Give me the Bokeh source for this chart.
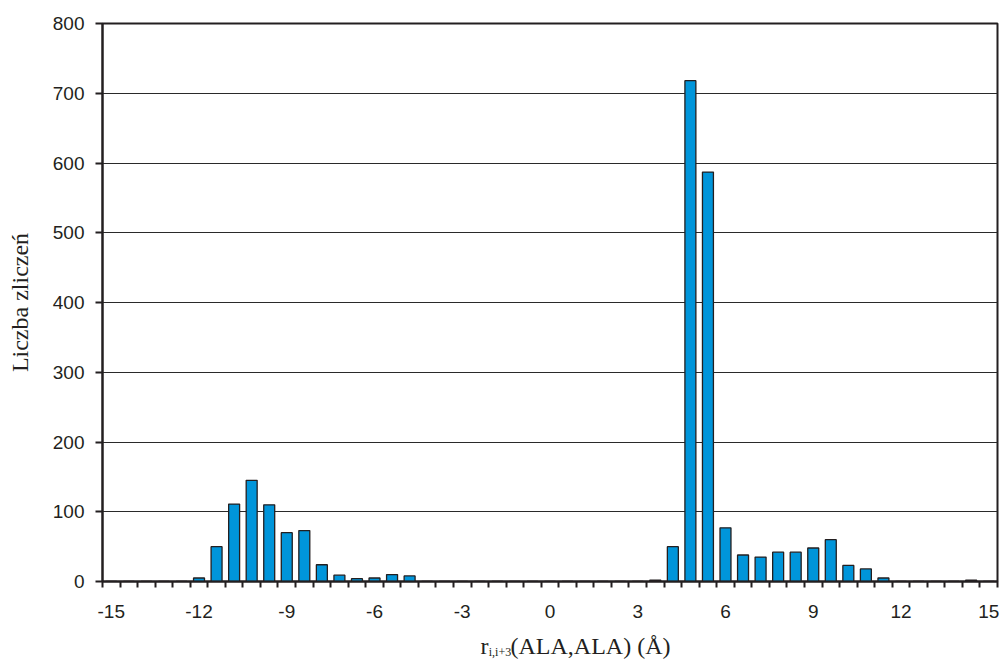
from bokeh.plotting import figure
from bokeh.models import Range1d, FixedTicker, LinearAxis, ColumnDataSource
from bokeh.embed import file_html
from bokeh.resources import INLINE

# bin centres (Å) and counts
bins = [-15.0, -14.4, -13.8, -13.2, -12.6, -12.0, -11.4, -10.8, -10.2, -9.6,
        -9.0, -8.4, -7.8, -7.2, -6.6, -6.0, -5.4, -4.8, -4.2, -3.6,
        -3.0, -2.4, -1.8, -1.2, -0.6, 0.0, 0.6, 1.2, 1.8, 2.4,
        3.0, 3.6, 4.2, 4.8, 5.4, 6.0, 6.6, 7.2, 7.8, 8.4,
        9.0, 9.6, 10.2, 10.8, 11.4, 12.0, 12.6, 13.2, 13.8, 14.4, 15.0]
counts = [0, 0, 0, 0, 0, 5, 50, 111, 145, 110,
          70, 73, 24, 9, 4, 5, 10, 8, 0, 0,
          0, 0, 0, 0, 0, 0, 0, 0, 0, 0,
          0, 2, 50, 718, 587, 77, 38, 35, 42, 42,
          48, 60, 23, 18, 5, 0, 0, 0, 0, 2, 0]
x_tick_labels = [-15, -12, -9, -6, -3, 0, 3, 6, 9, 12, 15]
y_ticks = [0, 100, 200, 300, 400, 500, 600, 700, 800]
x_title_main = ["r", "(ALA,ALA) (Å)"]
x_title_sub = "i,i+3"
y_title = "Liczba zliczeń"

bin_w = 0.6
edges = [b - bin_w / 2 for b in bins] + [bins[-1] + bin_w / 2]

INK = "#231f20"
BLUE = "#0095da"

W, H = 1003, 664
FRAME_L, FRAME_R = 102, 6
x0, x1 = edges[0], edges[-1]


def px_to_x(px):
    """Convert a canvas pixel column into an x data value."""
    fw = W - FRAME_L - FRAME_R
    return x0 + (px - FRAME_L) / fw * (x1 - x0)


p = figure(width=W, height=H, output_backend="svg", toolbar_location=None,
           x_range=Range1d(x0, x1), y_range=Range1d(0, 800),
           min_border_left=FRAME_L, min_border_right=FRAME_R, min_border_top=23,
           min_border_bottom=83)
p.background_fill_color = "white"
p.border_fill_color = "white"
p.outline_line_color = INK
p.outline_line_width = 2

src = ColumnDataSource(dict(x=bins, top=counts))
p.vbar(x="x", top="top", bottom=0, width=0.375, source=src,
       fill_color=BLUE, line_color=INK, line_width=1.3)

# grid
p.xgrid.grid_line_color = None
p.ygrid.ticker = FixedTicker(ticks=y_ticks[1:-1])
p.ygrid.grid_line_color = "#2a2a2a"
p.ygrid.grid_line_width = 1

# x axis
xa = p.xaxis[0]
xa.ticker = FixedTicker(ticks=x_tick_labels, minor_ticks=edges)
xa.major_label_overrides = {t: str(t) for t in x_tick_labels}
xa.axis_line_color = INK
xa.axis_line_width = 2
xa.major_tick_out = 6
xa.major_tick_in = 0
xa.major_tick_line_color = None
xa.minor_tick_out = 6
xa.minor_tick_in = 0
xa.minor_tick_line_color = INK
xa.minor_tick_line_width = 2
xa.major_label_text_font = "Liberation Sans"
xa.major_label_text_font_size = "19px"
xa.major_label_text_color = INK
xa.major_label_standoff = 17

# y axis
ya = p.yaxis[0]
ya.ticker = FixedTicker(ticks=y_ticks)
ya.axis_line_color = INK
ya.axis_line_width = 2
ya.major_tick_out = 7
ya.major_tick_in = 0
ya.major_tick_line_color = INK
ya.major_tick_line_width = 2
ya.minor_tick_line_color = None
ya.major_label_text_font = "Liberation Sans"
ya.major_label_text_font_size = "19px"
ya.major_label_text_color = INK
ya.major_label_standoff = 11
ya.axis_label = y_title
ya.axis_label_text_font = "Liberation Serif"
ya.axis_label_text_font_size = "24px"
ya.axis_label_text_font_style = "normal"
ya.axis_label_text_color = INK
ya.axis_label_standoff = 17


def text_axis(positions, texts, size, standoff):
    """An undecorated extra axis below the plot that only carries text."""
    ax = LinearAxis(
        ticker=FixedTicker(ticks=positions, minor_ticks=[]),
        major_label_overrides=dict(zip(positions, texts)),
        axis_line_color=None, major_tick_line_color=None,
        minor_tick_line_color=None, major_tick_out=0, major_tick_in=0,
        minor_tick_out=0, minor_tick_in=0,
        major_label_text_font="Liberation Serif",
        major_label_text_font_size=size, major_label_text_color=INK,
        major_label_standoff=standoff)
    p.add_layout(ax, "below")
    return ax


# x axis title: "r" + subscript "i,i+3" + "(ALA,ALA) (Å)"
text_axis([px_to_x(484), px_to_x(590)], x_title_main, "24px", 12)
text_axis([px_to_x(499.5)], [x_title_sub], "12px", -17)

open("out.html", "w").write(file_html(p, INLINE))
